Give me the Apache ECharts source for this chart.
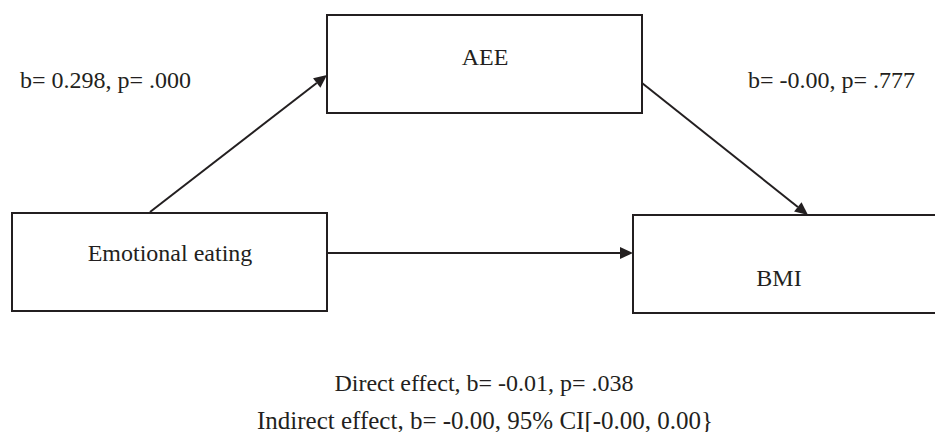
<!DOCTYPE html>
<html>
<head>
<meta charset="utf-8">
<script src="https://cdn.jsdelivr.net/npm/echarts@6/dist/echarts.min.js"></script>
<style>
html,body{margin:0;padding:0;background:#fff;}
#chart{width:935px;height:432px;}
</style>
</head>
<body>
<div id="chart"></div>
<script>
// ---- data ----
const nodeNames = ['AEE', 'Emotional eating', 'BMI'];
const pathFrom = ['Emotional eating', 'AEE', 'Emotional eating'];
const pathTo = ['AEE', 'BMI', 'BMI'];
const pathB = ['0.298', '-0.00', '-0.01'];
const pathP = ['.000', '.777', '.038'];
const indirectB = '-0.00';
const indirectCI = ['-0.00', '0.00'];

// ---- layout (pixel-like axis units) ----
const boxLayout = {
  'AEE': { rect: [327, 15, 642, 113], text: [485, 57] },
  'Emotional eating': { rect: [12, 213, 327, 311], text: [170, 253] },
  'BMI': { rect: [633, 215, 940, 313], text: [779, 278] }
};
const arrowLayout = [
  [[150, 212], [327, 75]],
  [[642, 83], [808, 215]],
  [[327, 253], [633, 253]]
];
const coefLayout = [
  { pos: [20, 80], align: 'left', size: 24 },
  { pos: [748, 80], align: 'left', size: 24 }
];
const footLayout = [
  { pos: [484, 383], align: 'center', size: 24 },
  { pos: [485, 420], align: 'center', size: 25 }
];

const INK = '#231f20';
const FONT = '"Liberation Serif", "DejaVu Serif", serif';
const FS = 24;

const coefTexts = [0, 1].map(i => 'b= ' + pathB[i] + ', p= ' + pathP[i]);
const footTexts = [
  'Direct effect, b= ' + pathB[2] + ', p= ' + pathP[2],
  'Indirect effect, b= ' + indirectB + ', 95% CI[' + indirectCI[0] + ', ' + indirectCI[1] + '}'
];

const chart = echarts.init(document.getElementById('chart'), null, { renderer: 'svg' });

chart.setOption({
  backgroundColor: '#ffffff',
  animation: false,
  grid: { left: 0, right: 0, top: 0, bottom: 0 },
  xAxis: { type: 'value', min: 0, max: 935, show: false },
  yAxis: { type: 'value', min: 0, max: 432, inverse: true, show: false },
  series: [
    {
      type: 'custom',
      name: 'boxes',
      data: nodeNames.map((n, i) => [i]),
      renderItem: function (params, api) {
        const name = nodeNames[params.dataIndex];
        const L = boxLayout[name];
        const p0 = api.coord([L.rect[0], L.rect[1]]);
        const p1 = api.coord([L.rect[2], L.rect[3]]);
        const t = api.coord(L.text);
        return {
          type: 'group',
          children: [
            {
              type: 'rect',
              shape: { x: p0[0], y: p0[1], width: p1[0] - p0[0], height: p1[1] - p0[1] },
              style: { fill: '#ffffff', stroke: INK, lineWidth: 2 }
            },
            {
              type: 'text',
              x: t[0], y: t[1],
              style: { text: name, fill: INK, font: FS + 'px ' + FONT, align: 'center', verticalAlign: 'middle' }
            }
          ]
        };
      }
    },
    {
      type: 'custom',
      name: 'paths',
      data: pathFrom.map((f, i) => [i]),
      renderItem: function (params, api) {
        const A = arrowLayout[params.dataIndex];
        const s = api.coord(A[0]);
        const e = api.coord(A[1]);
        const dx = e[0] - s[0], dy = e[1] - s[1];
        const len = Math.sqrt(dx * dx + dy * dy);
        const ux = dx / len, uy = dy / len;
        const hl = 13, hw = 6;
        const bx = e[0] - ux * hl, by = e[1] - uy * hl;
        return {
          type: 'group',
          children: [
            {
              type: 'line',
              shape: { x1: s[0], y1: s[1], x2: bx, y2: by },
              style: { stroke: INK, lineWidth: 2 }
            },
            {
              type: 'polygon',
              shape: { points: [[e[0], e[1]], [bx - uy * hw, by + ux * hw], [bx + uy * hw, by - ux * hw]] },
              style: { fill: INK }
            }
          ]
        };
      }
    },
    {
      type: 'custom',
      name: 'labels',
      data: coefTexts.concat(footTexts).map((t, i) => [i]),
      renderItem: function (params, api) {
        const i = params.dataIndex;
        const all = coefTexts.concat(footTexts);
        const lay = coefLayout.concat(footLayout)[i];
        const p = api.coord(lay.pos);
        return {
          type: 'text',
          x: p[0], y: p[1],
          style: { text: all[i], fill: INK, font: lay.size + 'px ' + FONT, align: lay.align, verticalAlign: 'middle' }
        };
      }
    }
  ]
});
</script>
</body>
</html>
